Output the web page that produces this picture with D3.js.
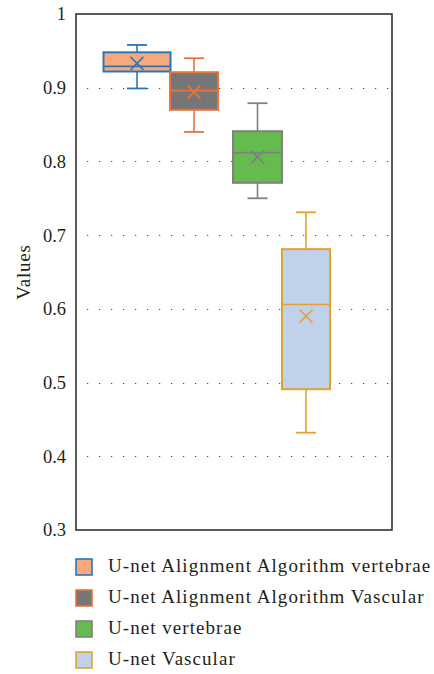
<!DOCTYPE html>
<html>
<head>
<meta charset="utf-8">
<script src="https://cdn.jsdelivr.net/npm/d3@7"></script>
<style>
  html, body { margin: 0; padding: 0; background: #fff; }
  svg { display: block; }
  text { font-family: "Liberation Serif", "DejaVu Serif", serif; fill: #231f20; }
</style>
</head>
<body>
<svg id="chart" width="434" height="674"></svg>
<script>
// ---- data ----
const categories = [
  "U-net Alignment Algorithm vertebrae",
  "U-net Alignment Algorithm Vascular",
  "U-net vertebrae",
  "U-net Vascular"
];
const whiskerLow  = [0.899, 0.840, 0.750, 0.432];
const q1Values    = [0.922, 0.870, 0.771, 0.491];
const medians     = [0.929, 0.896, 0.812, 0.606];
const q3Values    = [0.948, 0.921, 0.841, 0.681];
const whiskerHigh = [0.958, 0.940, 0.879, 0.731];
const means       = [0.933, 0.894, 0.806, 0.590];
const yTicks = [0.3, 0.4, 0.5, 0.6, 0.7, 0.8, 0.9, 1];
const yTickLabels = ["0.3", "0.4", "0.5", "0.6", "0.7", "0.8", "0.9", "1"];
const yLabel = "Values";

// ---- styles / layout ----
const fills   = ["#F7A97E", "#767676", "#66BB4F", "#C0D1EA"];
const strokes = ["#2E75B6", "#E8743B", "#808080", "#E5A030"];
const xCenters = [137, 194, 257.5, 306];
const boxWidths = [67, 48, 49, 48];
const capWidth = 20;

const plot = { left: 76, top: 14, right: 392, bottom: 530 };

const svg = d3.select("#chart");
const y = d3.scaleLinear().domain([0.3, 1]).range([plot.bottom, plot.top]);
const x = d3.scaleOrdinal().domain(categories).range(xCenters);
const w = d3.scaleOrdinal().domain(categories).range(boxWidths);

// gridlines (dotted)
svg.append("g").selectAll("line")
  .data(yTicks.filter(t => t > 0.3 && t < 1))
  .join("line")
  .attr("x1", plot.left + 11).attr("x2", plot.right)
  .attr("y1", d => Math.round(y(d)) + 0.5).attr("y2", d => Math.round(y(d)) + 0.5)
  .attr("stroke", "#444").attr("stroke-width", 1.2)
  .attr("stroke-dasharray", "1.2,10.8");

// y axis labels
const yAxis = d3.axisLeft(y).tickValues(yTicks)
  .tickFormat((d, i) => yTickLabels[i]).tickSize(0).tickPadding(10);
const ga = svg.append("g").attr("transform", `translate(${plot.left},0)`).call(yAxis);
ga.select(".domain").remove();
ga.selectAll("text").attr("font-size", 18.5).attr("font-family", "Liberation Serif").attr("fill", "#231f20");

// y label
svg.append("text")
  .attr("transform", `translate(30,${(plot.top + plot.bottom) / 2}) rotate(-90)`)
  .attr("text-anchor", "middle")
  .attr("font-size", 19)
  .attr("letter-spacing", 0.8)
  .text(yLabel);

// boxes
const data = categories.map((c, i) => ({
  c, i, lo: whiskerLow[i], q1: q1Values[i], med: medians[i], q3: q3Values[i], hi: whiskerHigh[i], mean: means[i]
}));
const g = svg.append("g").selectAll("g").data(data).join("g");
g.each(function(d) {
  const s = d3.select(this);
  const cx = x(d.c), bw = w(d.c), col = strokes[d.i];
  s.append("line").attr("x1", cx).attr("x2", cx).attr("y1", y(d.hi)).attr("y2", y(d.q3))
    .attr("stroke", col).attr("stroke-width", 1.6);
  s.append("line").attr("x1", cx).attr("x2", cx).attr("y1", y(d.q1)).attr("y2", y(d.lo))
    .attr("stroke", col).attr("stroke-width", 1.6);
  s.append("line").attr("x1", cx - capWidth / 2).attr("x2", cx + capWidth / 2).attr("y1", y(d.hi)).attr("y2", y(d.hi))
    .attr("stroke", col).attr("stroke-width", 1.8);
  s.append("line").attr("x1", cx - capWidth / 2).attr("x2", cx + capWidth / 2).attr("y1", y(d.lo)).attr("y2", y(d.lo))
    .attr("stroke", col).attr("stroke-width", 1.8);
  s.append("rect").attr("x", cx - bw / 2).attr("width", bw)
    .attr("y", y(d.q3)).attr("height", y(d.q1) - y(d.q3))
    .attr("fill", fills[d.i]).attr("stroke", col).attr("stroke-width", 2);
  s.append("line").attr("x1", cx - bw / 2).attr("x2", cx + bw / 2).attr("y1", y(d.med)).attr("y2", y(d.med))
    .attr("stroke", col).attr("stroke-width", 1.6);
  const m = 6.5, my = y(d.mean);
  s.append("path").attr("d", `M${cx - m},${my - m}L${cx + m},${my + m}M${cx - m},${my + m}L${cx + m},${my - m}`)
    .attr("stroke", col).attr("stroke-width", 1.6).attr("fill", "none");
});

// frame
svg.append("rect").attr("x", plot.left).attr("y", plot.top)
  .attr("width", plot.right - plot.left).attr("height", plot.bottom - plot.top)
  .attr("fill", "none").attr("stroke", "#333").attr("stroke-width", 1.6);

// legend
const legendRowY = [567, 598, 629, 660];
const lg = svg.append("g").selectAll("g").data(data).join("g")
  .attr("transform", d => `translate(75,${legendRowY[d.i]})`);
lg.append("rect").attr("x", 1).attr("y", -8).attr("width", 16).attr("height", 16)
  .attr("fill", d => fills[d.i]).attr("stroke", d => strokes[d.i]).attr("stroke-width", 1.6);
lg.append("text").attr("x", 33).attr("y", -2).attr("dy", "0.35em")
  .attr("font-size", 19).attr("letter-spacing", 1.05).text(d => d.c);
</script>
</body>
</html>
